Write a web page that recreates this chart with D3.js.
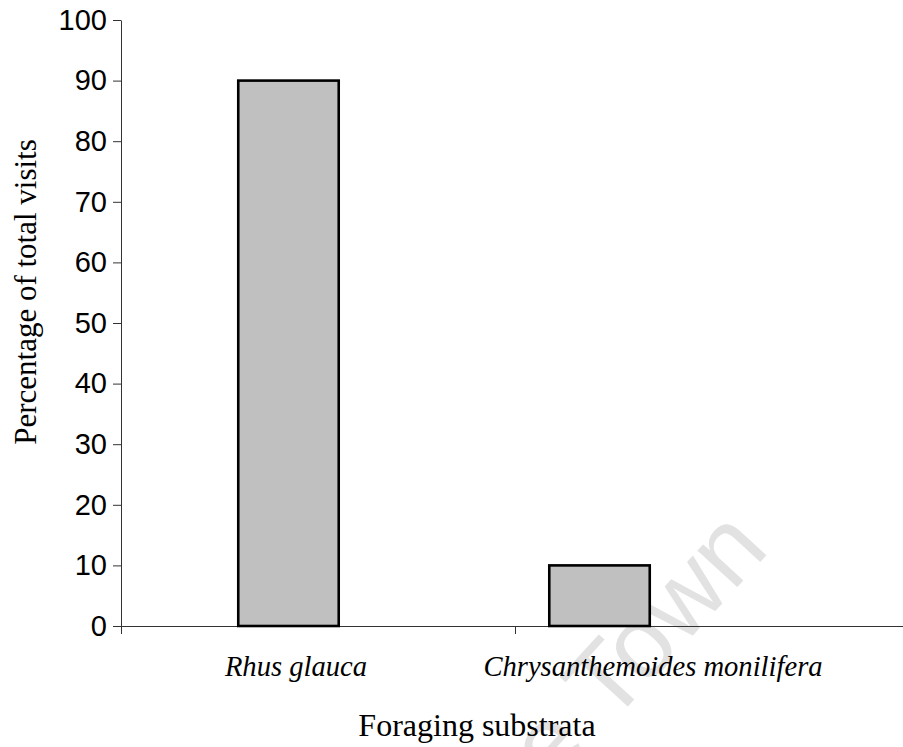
<!DOCTYPE html>
<html lang="en">
<head>
<meta charset="UTF-8">
<title>Foraging substrata</title>
<style>
  body { margin: 0; background: #fff; }
</style>
</head>
<body>
<div id="chart"></div>
<script src="https://d3js.org/d3.v7.min.js"></script>
<script>
// data
const categories = ["Rhus glauca", "Chrysanthemoides monilifera"];
const visits = [90, 10];
const yTicks = [0, 10, 20, 30, 40, 50, 60, 70, 80, 90, 100];

const W = 903, H = 747;
const margin = {top: 20, left: 121, bottom: 121};
const y0 = H - margin.bottom; // y of value 0

const svg = d3.select("#chart").append("svg")
    .attr("width", W)
    .attr("height", H);

// faint watermark behind the chart (only its end shows in the original)
const wm = svg.append("g")
    .attr("transform", "translate(610,726) rotate(-47.5)")
    .style("font-family", "'Liberation Sans', Arial, sans-serif")
    .style("font-size", "102px")
    .style("fill", "#e2e2e2");
wm.append("text").attr("text-anchor", "start").text("Town");
wm.append("text").attr("text-anchor", "end").attr("x", -28).text("Cape");

// scales
const y = d3.scaleLinear()
    .domain([0, 100])
    .range([y0, margin.top]);

// bars sit off-centre in the original, so they get their own band scale
const xBar = d3.scaleBand()
    .domain(categories)
    .range([margin.left, 767])
    .paddingInner(0.677)
    .paddingOuter(0.377);

// axis with ticks on category boundaries
const xAxisScale = d3.scaleLinear()
    .domain([0, categories.length])
    .range([margin.left, 909]);

const xLabel = d3.scalePoint()
    .domain(categories)
    .range([296, 653]);

// x axis
const gx = svg.append("g")
    .attr("transform", "translate(0," + y0 + ")")
    .call(d3.axisBottom(xAxisScale)
        .tickValues(d3.range(0, categories.length + 1))
        .tickFormat("")
        .tickSize(8)
        .tickSizeOuter(0));
gx.selectAll("path, line").attr("stroke", "#333");

// y axis
const gy = svg.append("g")
    .attr("transform", "translate(" + margin.left + ",0)")
    .call(d3.axisLeft(y)
        .tickValues(yTicks)
        .tickSize(8)
        .tickSizeOuter(0)
        .tickPadding(6));
gy.selectAll("path, line").attr("stroke", "#333");
gy.selectAll("text")
    .style("font-family", "'Liberation Sans', Arial, sans-serif")
    .style("font-size", "29px")
    .style("fill", "#000");

// bars
svg.append("g")
    .selectAll("rect")
    .data(visits)
    .enter()
    .append("rect")
    .attr("x", (d, i) => xBar(categories[i]))
    .attr("y", d => y(d))
    .attr("width", xBar.bandwidth())
    .attr("height", d => y0 - y(d))
    .style("fill", "#c0c0c0")
    .style("stroke", "#000")
    .style("stroke-width", 2.6);

// category labels
svg.append("g")
    .selectAll("text")
    .data(categories)
    .enter()
    .append("text")
    .attr("x", d => xLabel(d))
    .attr("y", 676)
    .attr("text-anchor", "middle")
    .style("font-family", "'Liberation Serif', 'Times New Roman', serif")
    .style("font-style", "italic")
    .style("font-size", "28.6px")
    .text(d => d);

// x axis title
svg.append("text")
    .attr("x", 477)
    .attr("y", 736)
    .attr("text-anchor", "middle")
    .style("font-family", "'Liberation Serif', 'Times New Roman', serif")
    .style("font-size", "32px")
    .text("Foraging substrata");

// y axis title
svg.append("text")
    .attr("transform", "rotate(-90)")
    .attr("x", -292)
    .attr("y", 36)
    .attr("text-anchor", "middle")
    .style("font-family", "'Liberation Serif', 'Times New Roman', serif")
    .style("font-size", "31px")
    .text("Percentage of total visits");
</script>
</body>
</html>
